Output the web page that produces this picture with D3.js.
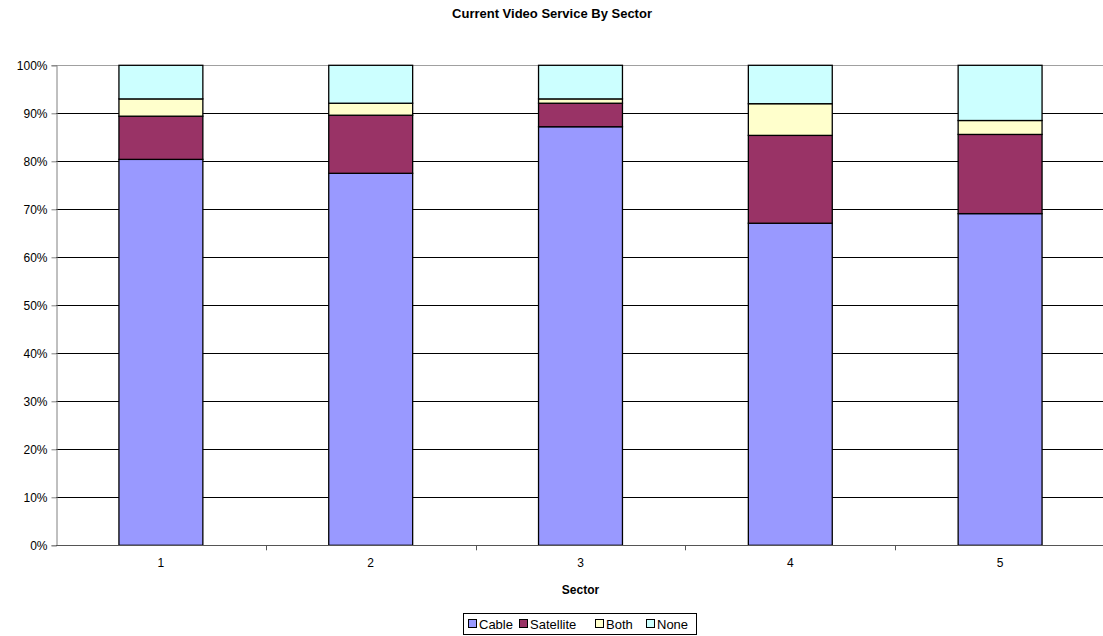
<!DOCTYPE html>
<html>
<head>
<meta charset="utf-8">
<script src="https://cdn.jsdelivr.net/npm/d3@7"></script>
<style>
  html, body { margin: 0; padding: 0; background: #fff; }
  svg { display: block; font-family: "Liberation Sans", Arial, sans-serif; }
</style>
</head>
<body>
<svg id="chart" width="1103" height="636"></svg>
<script>
// Share of households by video service, per sector (percent)
const sectors = ["1", "2", "3", "4", "5"];
const seriesNames = ["Cable", "Satellite", "Both", "None"];
const cable     = [80.4, 77.5, 87.2, 67.1, 69.1];
const satellite = [9.0, 12.1, 4.9, 18.3, 16.5];
const both      = [3.6, 2.5, 0.9, 6.6, 2.9];
const none      = [7.0, 7.9, 7.0, 8.0, 11.5];
const yTicks = [0, 10, 20, 30, 40, 50, 60, 70, 80, 90, 100];
const colors = ["#9999FF", "#993366", "#FFFFCC", "#CCFFFF"];

(function () {
  const rows = sectors.map((s, i) => ({
    sector: s, Cable: cable[i], Satellite: satellite[i], Both: both[i], None: none[i]
  }));
  const stacked = d3.stack().keys(seriesNames)(rows);

  const svg = d3.select("#chart");
  const plotLeft = 56, plotRight = 1105, plotTop = 65.3, plotBottom = 545.3;

  const x = d3.scaleBand().domain(sectors).range([plotLeft, plotRight])
    .paddingInner(0.6).paddingOuter(0.3);
  const y = d3.scaleLinear().domain([0, 100]).range([plotBottom, plotTop]);
  const color = d3.scaleOrdinal().domain(seriesNames).range(colors);

  // Title
  svg.append("text")
    .attr("x", 552).attr("y", 18)
    .attr("text-anchor", "middle")
    .attr("font-size", 13).attr("font-weight", "bold")
    .text("Current Video Service By Sector");

  // Horizontal gridlines
  svg.append("g").selectAll("line")
    .data(yTicks.filter(t => t > 0))
    .join("line")
    .attr("x1", plotLeft).attr("x2", plotRight)
    .attr("y1", d => Math.round(y(d)) + 0.5).attr("y2", d => Math.round(y(d)) + 0.5)
    .attr("stroke", d => d === 100 ? "#a0a0a0" : "#000")
    .attr("stroke-width", 1);

  // Stacked bars
  svg.append("g").selectAll("g")
    .data(stacked)
    .join("g")
    .attr("fill", d => color(d.key))
    .selectAll("rect")
    .data(d => d)
    .join("rect")
    .attr("x", d => x(d.data.sector))
    .attr("width", x.bandwidth())
    .attr("y", d => y(d[1]))
    .attr("height", d => y(d[0]) - y(d[1]))
    .attr("stroke", "#000")
    .attr("stroke-width", 1.3);

  // Y axis
  const yAxis = d3.axisLeft(y)
    .tickValues(yTicks)
    .tickFormat(d => d + "%")
    .tickSize(5)
    .tickPadding(4);
  const gy = svg.append("g")
    .attr("transform", `translate(${plotLeft + 0.5},0)`)
    .call(yAxis);
  gy.select(".domain").attr("stroke", "#808080");
  gy.selectAll(".tick line").attr("stroke", "#808080");
  gy.selectAll(".tick text")
    .attr("font-size", 12).attr("fill", "#000")
    .attr("font-family", "Liberation Sans, Arial, sans-serif");

  // X axis: baseline, separators between categories, labels
  const gx = svg.append("g");
  gx.append("line")
    .attr("x1", plotLeft).attr("x2", plotRight)
    .attr("y1", Math.round(plotBottom) + 0.5).attr("y2", Math.round(plotBottom) + 0.5)
    .attr("stroke", "#555").attr("stroke-width", 1.2);
  const step = x.step();
  gx.selectAll("line.sep")
    .data(sectors.slice(1))
    .join("line")
    .attr("class", "sep")
    .attr("x1", d => Math.round(x(d) - x.paddingInner() * step / 2) + 0.5)
    .attr("x2", d => Math.round(x(d) - x.paddingInner() * step / 2) + 0.5)
    .attr("y1", plotBottom).attr("y2", plotBottom + 5)
    .attr("stroke", "#555");
  gx.selectAll("text")
    .data(sectors)
    .join("text")
    .attr("x", d => x(d) + x.bandwidth() / 2)
    .attr("y", 567)
    .attr("text-anchor", "middle")
    .attr("font-size", 12)
    .text(d => d);

  svg.append("text")
    .attr("x", (plotLeft + plotRight) / 2).attr("y", 594)
    .attr("text-anchor", "middle")
    .attr("font-size", 12).attr("font-weight", "bold")
    .text("Sector");

  // Legend
  const legend = svg.append("g");
  legend.append("rect")
    .attr("x", 463.5).attr("y", 613.5)
    .attr("width", 233).attr("height", 21)
    .attr("fill", "#fff").attr("stroke", "#000");
  const itemX = [468, 519, 595, 646];
  const items = legend.selectAll("g.item")
    .data(seriesNames)
    .join("g")
    .attr("class", "item")
    .attr("transform", (d, i) => `translate(${itemX[i]},0)`);
  items.append("rect")
    .attr("x", 0.5).attr("y", 619.5)
    .attr("width", 8).attr("height", 8)
    .attr("fill", d => color(d)).attr("stroke", "#000");
  items.append("text")
    .attr("x", 11).attr("y", 628.5)
    .attr("font-size", 13)
    .text(d => d);
})();
</script>
</body>
</html>
